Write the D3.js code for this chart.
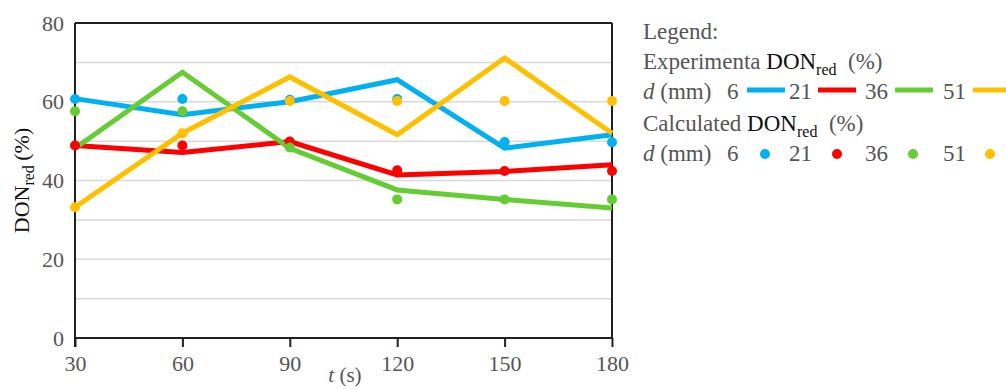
<!DOCTYPE html>
<html>
<head>
<meta charset="utf-8">
<script src="https://cdn.jsdelivr.net/npm/d3@7"></script>
<style>
  html, body { margin: 0; padding: 0; background: #fff; }
  svg { display: block; font-family: "Liberation Serif", "DejaVu Serif", serif; }
</style>
</head>
<body>
<svg id="chart" width="1006" height="389"></svg>
<script>
// Treatment times (s)
const times = [30, 60, 90, 120, 150, 180];
// Electrode gap d (mm) for each series
const gaps = ["6", "21", "36", "51"];
const colors = ["#00b0f0", "#ff0000", "#66cc33", "#ffc000"];

// Experimental DON_red (%) — drawn as lines
const exp6  = [60.8, 56.7, 60.0, 65.6, 48.2, 51.6];
const exp21 = [48.9, 47.1, 49.9, 41.4, 42.3, 44.0];
const exp36 = [48.2, 67.5, 48.2, 37.6, 35.2, 33.0];
const exp51 = [33.2, 52.0, 66.3, 51.6, 71.1, 52.0];

// Calculated DON_red (%) — drawn as dots
const calc6  = [60.7, 60.7, 60.5, 60.7, 49.8, 49.7];
const calc21 = [48.9, 48.9, 49.9, 42.6, 42.4, 42.4];
const calc36 = [57.6, 57.6, 48.4, 35.2, 35.2, 35.2];
const calc51 = [33.2, 52.0, 60.2, 60.2, 60.2, 60.2];

const yTicks = [0, 20, 40, 60, 80];
const yGrid = [10, 20, 30, 40, 50, 60, 70];

const expSeries = [exp6, exp21, exp36, exp51];
const calcSeries = [calc6, calc21, calc36, calc51];

const svg = d3.select("#chart");
const plot = { left: 75, right: 612, top: 23, bottom: 338 };

const x = d3.scaleLinear().domain([30, 180]).range([plot.left, plot.right]);
const y = d3.scaleLinear().domain([0, 80]).range([plot.bottom, plot.top]);

const textGray = "#555";
const axisColor = "#231f20";

// horizontal gridlines
svg.append("g").selectAll("line").data(yGrid).join("line")
  .attr("x1", plot.left).attr("x2", plot.right)
  .attr("y1", d => y(d)).attr("y2", d => y(d))
  .attr("stroke", "#d9d9d9").attr("stroke-width", 1.5);

// frame: top and right borders
svg.append("line").attr("x1", plot.left).attr("x2", plot.right)
  .attr("y1", plot.top).attr("y2", plot.top)
  .attr("stroke", axisColor).attr("stroke-width", 2);
svg.append("line").attr("x1", plot.right).attr("x2", plot.right)
  .attr("y1", plot.top).attr("y2", plot.bottom)
  .attr("stroke", axisColor).attr("stroke-width", 2);

// bottom axis
const xAxis = svg.append("g")
  .attr("transform", `translate(0,${plot.bottom})`)
  .call(d3.axisBottom(x).tickValues(times).tickSize(9).tickPadding(8).tickFormat(d3.format("d")));
xAxis.select(".domain").attr("stroke", axisColor).attr("stroke-width", 2)
  .attr("d", `M${plot.left},0H${plot.right}`);
xAxis.selectAll(".tick line").attr("stroke", axisColor).attr("stroke-width", 2);
xAxis.selectAll(".tick text").attr("fill", textGray)
  .style("font-family", "Liberation Serif, serif").style("font-size", "22px");

// left axis
const yAxis = svg.append("g")
  .attr("transform", `translate(${plot.left},0)`)
  .call(d3.axisLeft(y).tickValues(yTicks).tickSize(0).tickPadding(11));
yAxis.select(".domain").attr("stroke", axisColor).attr("stroke-width", 2)
  .attr("d", `M0,${plot.top}V${plot.bottom + 9}`);
yAxis.selectAll(".tick text").attr("fill", textGray)
  .style("font-family", "Liberation Serif, serif").style("font-size", "22px");

// experimental lines
const line = d3.line().x((d, i) => x(times[i])).y(d => y(d));
svg.append("g").selectAll("path").data(expSeries).join("path")
  .attr("d", d => line(d))
  .attr("fill", "none")
  .attr("stroke", (d, i) => colors[i])
  .attr("stroke-width", 5)
  .attr("stroke-linejoin", "miter");

// calculated points
const dots = svg.append("g");
calcSeries.forEach((s, si) => {
  dots.selectAll(null).data(s).join("circle")
    .attr("cx", (d, i) => x(times[i]))
    .attr("cy", d => y(d))
    .attr("r", 5)
    .attr("fill", colors[si]);
});

// axis titles
const yTitle = svg.append("text")
  .attr("transform", `translate(29,${(plot.top + plot.bottom) / 2}) rotate(-90)`)
  .attr("text-anchor", "middle")
  .attr("fill", "#111").style("font-size", "22px");
yTitle.append("tspan").text("DON");
yTitle.append("tspan").attr("dy", 5).style("font-size", "16px").text("red");
yTitle.append("tspan").attr("dy", -5).text("\u2009(%)");

const xTitle = svg.append("text")
  .attr("x", 345).attr("y", 382)
  .attr("text-anchor", "middle")
  .attr("fill", textGray).style("font-size", "21px");
xTitle.append("tspan").style("font-style", "italic").text("t");
xTitle.append("tspan").text(" (s)");

// legend
const lg = svg.append("g").style("font-size", "23px");
const lx = 643;
lg.append("text").attr("x", lx).attr("y", 39).attr("fill", textGray).text("Legend:");

function heading(yb, label) {
  const t = lg.append("text").attr("x", lx).attr("y", yb).attr("fill", textGray);
  t.append("tspan").text(label + " ");
  t.append("tspan").attr("fill", "#111").text("DON");
  t.append("tspan").attr("fill", "#111").attr("dy", 6).style("font-size", "16px").text("red");
  t.append("tspan").attr("dy", -6).text("\u2002(%)");
}
heading(69, "Experimenta");
heading(131, "Calculated");

const labelX = [727, 789, 865, 943];
const lineX = [747, 818, 895, 973];
const dotX = [765, 837, 913, 990];

function keyRow(yb) {
  const t = lg.append("text").attr("x", lx).attr("y", yb).attr("fill", textGray);
  t.append("tspan").style("font-style", "italic").text("d");
  t.append("tspan").text(" (mm)");
  lg.selectAll(null).data(gaps).join("text")
    .attr("x", (d, i) => labelX[i]).attr("y", yb)
    .attr("fill", textGray).text(d => d);
}
keyRow(99);
lg.selectAll(null).data(colors).join("line")
  .attr("x1", (d, i) => lineX[i]).attr("x2", (d, i) => lineX[i] + 38)
  .attr("y1", 90).attr("y2", 90)
  .attr("stroke", d => d).attr("stroke-width", 5);

keyRow(161);
lg.selectAll(null).data(colors).join("circle")
  .attr("cx", (d, i) => dotX[i]).attr("cy", 154).attr("r", 5)
  .attr("fill", d => d);
</script>
</body>
</html>
